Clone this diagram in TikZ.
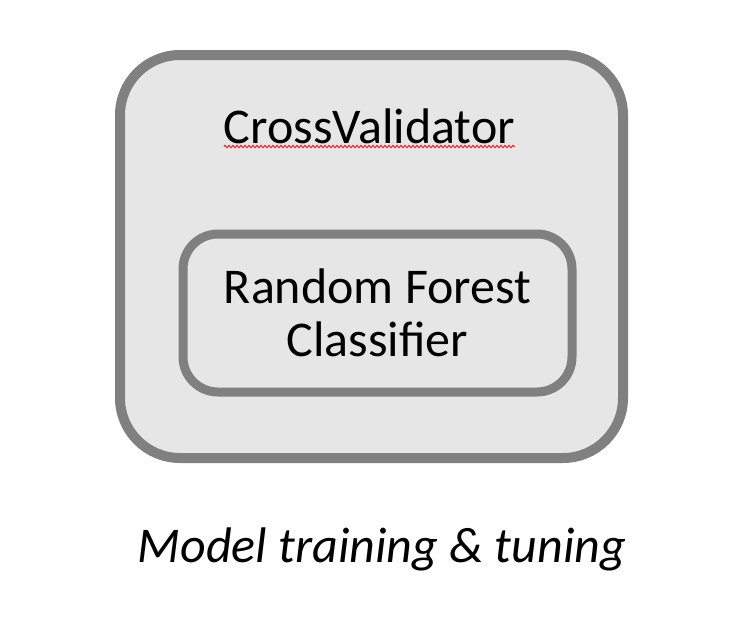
\documentclass[tikz,border=0pt]{standalone}
\usepackage{fontspec}
\setmainfont{Carlito}
\usetikzlibrary{positioning,decorations.pathmorphing}

\definecolor{boxgray}{HTML}{808080}
\definecolor{boxfill}{HTML}{E7E6E6}

\begin{document}
\begin{tikzpicture}[x=1pt,y=-1pt,
  box/.style={draw=boxgray, fill=boxfill, rectangle},
  bigtext/.style={font=\fontsize{50}{53}\selectfont, inner sep=0pt},
  spellwave/.style={draw=red, line width=0.8pt, decorate,
    decoration={snake, amplitude=1.2pt, segment length=4pt}}]
  \useasboundingbox (0,0) rectangle (740,630);

  \node (cv) [box, line width=10pt, rounded corners=60pt, minimum width=503pt, minimum height=403pt] at (371.5,256.5) {};
  \node (cvtext) [bigtext, anchor=base] at (369.5,143) {CrossValidator};
  \node (rf) [box, line width=9pt, rounded corners=35pt, minimum width=389pt, minimum height=158pt, align=center, font=\fontsize{50}{53}\selectfont] at (377.5,313) {Random Forest\\Classifier};
  \node (caption) [bigtext, anchor=base, font=\fontsize{50}{53}\selectfont\itshape] at (382,562) {Model training \& tuning};

  \draw [spellwave] ([yshift=-3.5pt]cvtext.base west) -- ([yshift=-3.5pt]cvtext.base east);
\end{tikzpicture}
\end{document}
